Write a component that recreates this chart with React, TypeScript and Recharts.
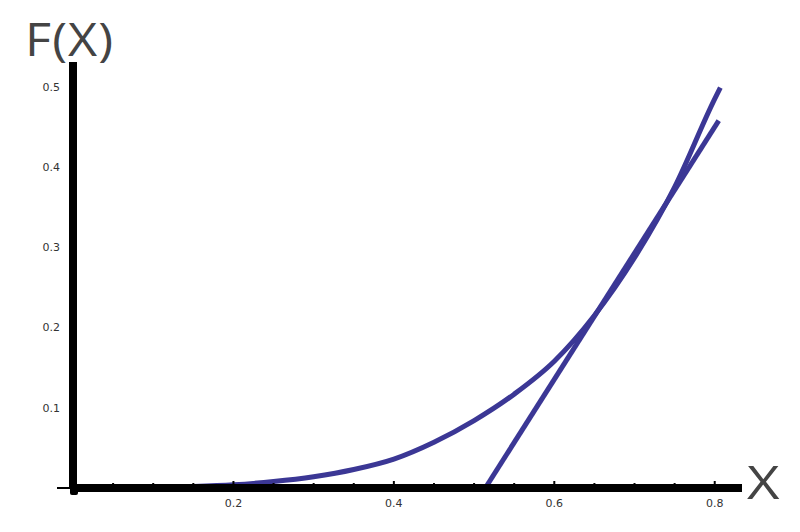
import { LineChart, Line, XAxis, YAxis } from "recharts"

// curve F(X)
const curveX = [0, 0.1, 0.15, 0.2, 0.25, 0.3, 0.35, 0.4, 0.45, 0.5, 0.55, 0.6, 0.65, 0.7, 0.75, 0.8, 0.807]
const curveY = [0, 0.001, 0.002, 0.004, 0.008, 0.014, 0.023, 0.036, 0.057, 0.084, 0.117, 0.158, 0.215, 0.287, 0.375, 0.485, 0.499]

// straight line crossing the curve
const lineX = [0.514, 0.805]
const lineY = [0, 0.458]

const xTicks = [0.05, 0.1, 0.15, 0.2, 0.25, 0.3, 0.35, 0.4, 0.45, 0.5, 0.55, 0.6, 0.65, 0.7, 0.75, 0.8]
const xLabels = [0.2, 0.4, 0.6, 0.8]
const yTicks = [0.1, 0.2, 0.3, 0.4, 0.5]

const curve = curveX.map((x, i) => ({ x, y: curveY[i] }))
const line = lineX.map((x, i) => ({ x, y: lineY[i] }))

const BLUE = "#3b3795"

function XTick(props: any) {
  const { x, y, payload } = props
  const v = payload.value
  const major = xLabels.some(l => Math.abs(l - v) < 1e-6)
  return (
    <g>
      <line x1={x} x2={x} y1={y - 4} y2={y - (major ? 7 : 5)} stroke="#000" strokeWidth={2} />
      {major && (
        <text x={x} y={y + 19} textAnchor="middle" fontSize={11} fill="#333" fontFamily="DejaVu Sans">
          {v.toFixed(1)}
        </text>
      )}
    </g>
  )
}

const bigLabel = { position: "absolute" as const, fontSize: 45, fontFamily: "Open Sans", color: "#444", lineHeight: "50px", transformOrigin: "left top" }

export default function App() {
  return (
    <div style={{ position: "absolute", left: 0, top: 0, width: 800, height: 532, background: "#fff" }}>
      {/* small stub left of the origin */}
      <div style={{ position: "absolute", left: 57, top: 487, width: 14, height: 2, background: "#000" }} />
      <div style={{ position: "absolute", left: 70, top: 486, width: 8, height: 9, background: "#000", borderRadius: 2 }} />
      <div style={{ position: "absolute", left: 0, top: 0 }}>
        <LineChart width={800} height={532} margin={{ top: 62, right: 58, bottom: 14, left: 0 }}>
          <XAxis
            type="number"
            dataKey="x"
            domain={[0, 0.834]}
            ticks={xTicks}
            tick={<XTick />}
            tickLine={false}
            tickSize={0}
            tickMargin={0}
            height={30}
            axisLine={{ stroke: "#000", strokeWidth: 8 }}
            allowDataOverflow
          />
          <YAxis
            type="number"
            dataKey="y"
            domain={[0, 0.531]}
            ticks={yTicks}
            width={73}
            tickLine={false}
            tickSize={0}
            tickMargin={13}
            tick={{ fontSize: 11, fill: "#333", fontFamily: "DejaVu Sans" }}
            tickFormatter={(v: number) => v.toFixed(1)}
            axisLine={{ stroke: "#000", strokeWidth: 8 }}
            allowDataOverflow
          />
          <Line data={curve} dataKey="y" type="monotone" stroke={BLUE} strokeWidth={5} dot={false} isAnimationActive={false} />
          <Line data={line} dataKey="y" type="linear" stroke={BLUE} strokeWidth={5} dot={false} isAnimationActive={false} />
        </LineChart>
      </div>
      <div style={{ ...bigLabel, left: 25, top: 14, transform: "scaleX(1.12)", letterSpacing: 1 }}>F(X)</div>
      <div style={{ ...bigLabel, left: 747, top: 457, transform: "scaleX(1.25)" }}>X</div>
    </div>
  )
}
